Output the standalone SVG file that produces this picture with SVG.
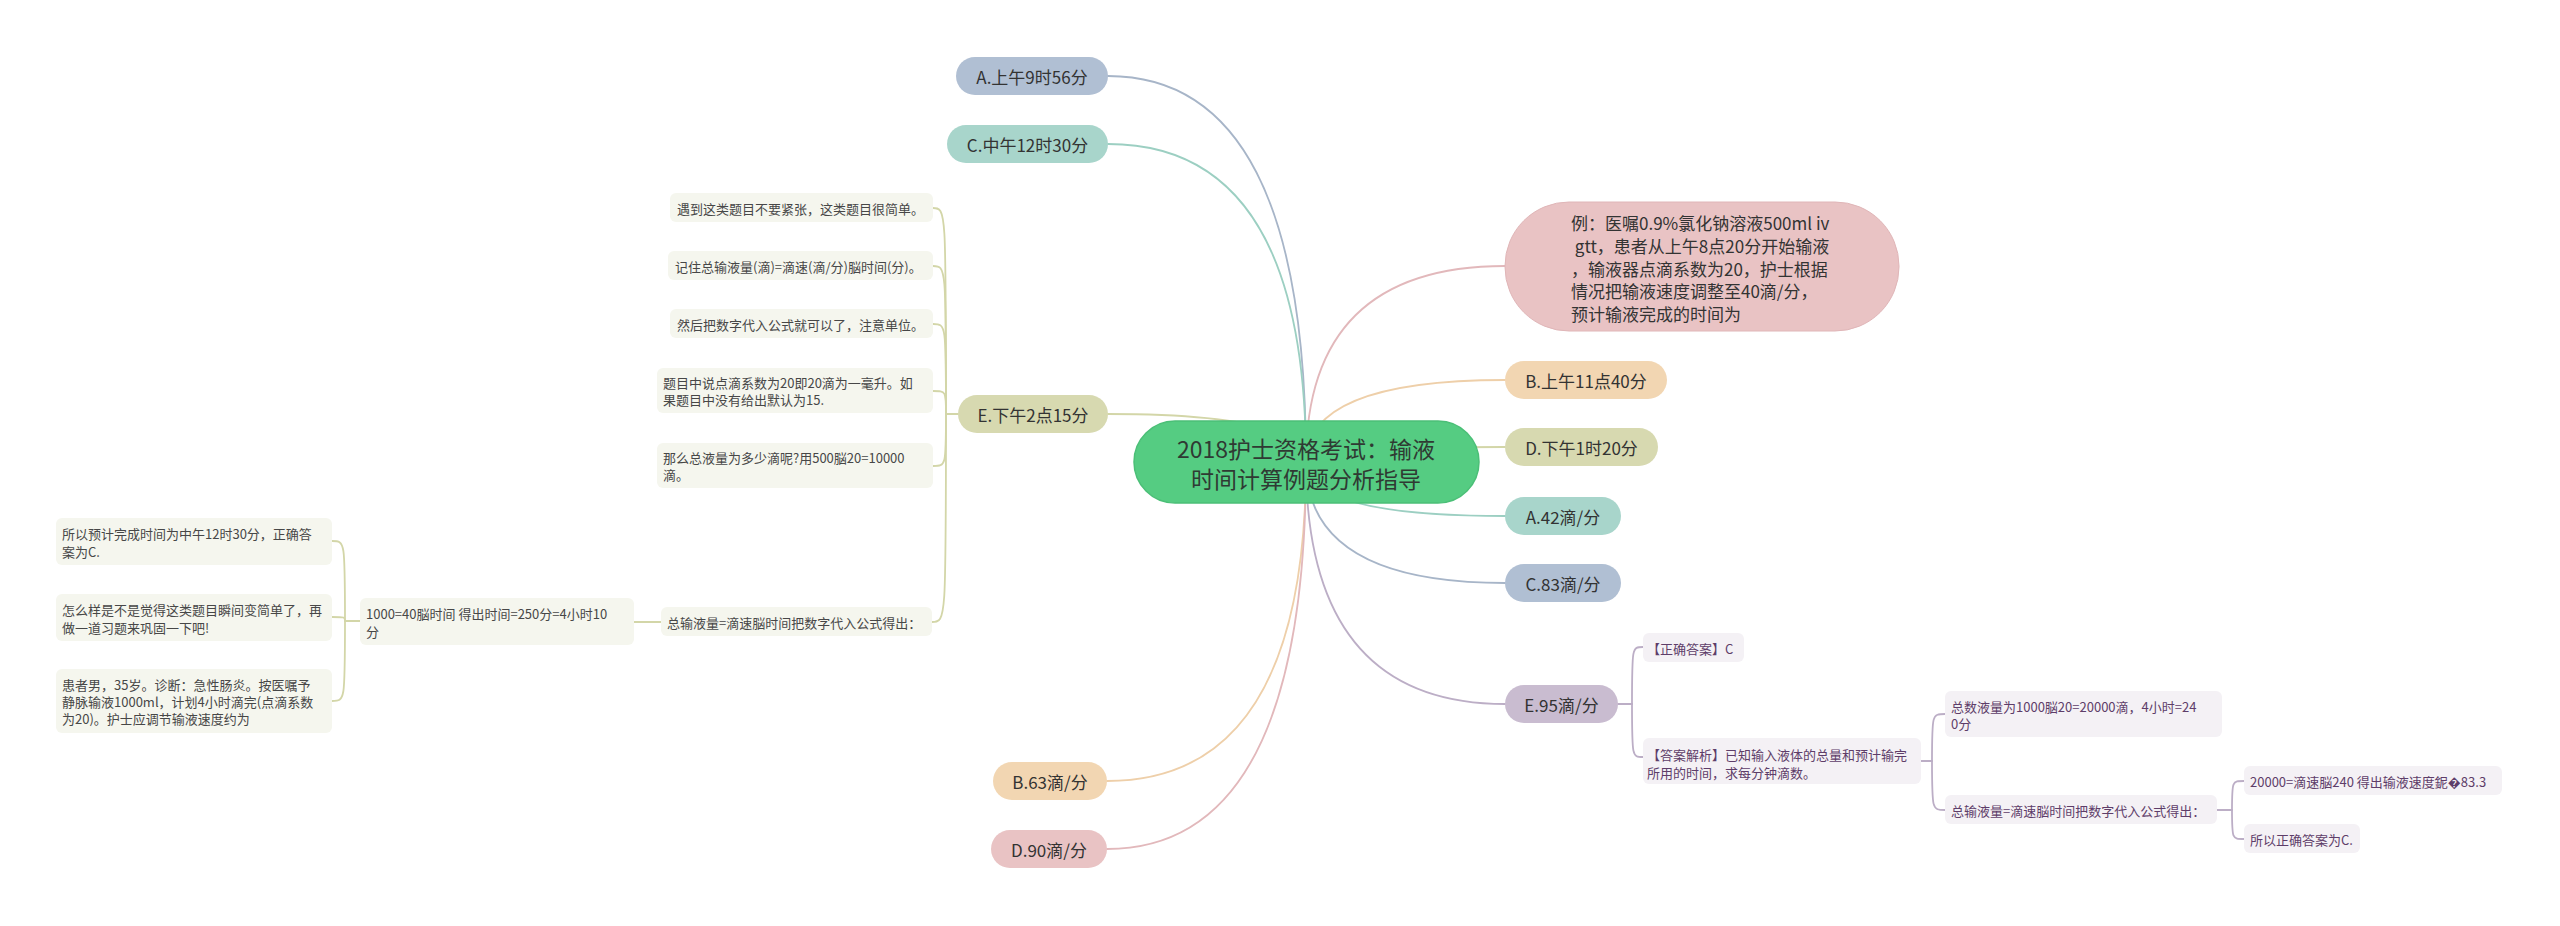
<svg xmlns="http://www.w3.org/2000/svg" width="2560" height="926" viewBox="0 0 2560 926">
<style>
text{font-family:"Noto Sans CJK SC","Noto Sans",sans-serif;dominant-baseline:central}
.pill{font-size:17px;fill:#333;text-anchor:middle}
.main{font-size:23px;fill:#2f3a33;text-anchor:middle}
.ex{font-size:17px;fill:#333}
.lt{font-size:13px;fill:#474747}
.rt{font-size:13px;fill:#5e3d69}
.lbox{fill:#f5f6ee}
.rbox{fill:#f4f1f5}
.c{fill:none;stroke-width:1.8;stroke-linecap:round}
.cb{stroke:#a7b5c8}.cm{stroke:#9ccfc2}.co{stroke:#d3d6a8}.cp{stroke:#eecfa9}.cl{stroke:#bcaec6}.ck{stroke:#e2b8bb}
</style>
<rect width="2560" height="926" fill="#ffffff"/>
<g id="connectors">
<path class="c cb" d="M1306,462 Q1306,76 1108,76"/>
<path class="c cm" d="M1306,462 Q1306,144 1108,144"/>
<path class="c co" d="M1306,462 Q1306,414 1108,414"/>
<path class="c ck" d="M1306,462 Q1306,266 1505,266"/>
<path class="c cp" d="M1306,462 Q1306,380 1505,380"/>
<path class="c co" d="M1306,462 Q1306,447 1505,447"/>
<path class="c cm" d="M1306,462 Q1306,516 1505,516"/>
<path class="c cb" d="M1306,462 Q1306,583 1505,583"/>
<path class="c cl" d="M1306,462 Q1306,704 1505,704"/>
<path class="c cp" d="M1306,462 Q1306,781 1107,781"/>
<path class="c ck" d="M1306,462 Q1306,849 1107,849"/>
<path class="c co" d="M958,414 H946"/>
<path class="c co" d="M946,414 C946,208 946,208 933,208"/>
<path class="c co" d="M946,414 C946,266 946,266 933,266"/>
<path class="c co" d="M946,414 C946,324 946,324 933,324"/>
<path class="c co" d="M946,414 C946,391 946,391 933,391"/>
<path class="c co" d="M946,414 C946,466 946,466 933,466"/>
<path class="c co" d="M946,414 C946,622 946,622 932,622"/>
<path class="c co" d="M661,622 H634"/>
<path class="c co" d="M360,621 H345"/>
<path class="c co" d="M345,621 C345,541 345,541 332,541"/>
<path class="c co" d="M345,621 C345,617 345,617 332,617"/>
<path class="c co" d="M345,621 C345,701 345,701 332,701"/>
<path class="c cl" d="M1618,704 H1632"/>
<path class="c cl" d="M1632,704 C1632,647 1632,647 1643,647"/>
<path class="c cl" d="M1632,704 C1632,757 1632,757 1643,757"/>
<path class="c cl" d="M1921,761 H1932"/>
<path class="c cl" d="M1932,761 C1932,714 1932,714 1945,714"/>
<path class="c cl" d="M1932,761 C1932,810 1932,810 1945,810"/>
<path class="c cl" d="M2217,810 H2232"/>
<path class="c cl" d="M2232,810 C2232,781 2232,781 2244,781"/>
<path class="c cl" d="M2232,810 C2232,839 2232,839 2244,839"/>
</g>
<g id="central">
<rect x="1134" y="421" width="345" height="82" rx="41" fill="#55cc82" stroke="#4bbf77" stroke-width="1.5"/>
<text class="main" x="1306" y="448">2018护士资格考试：输液</text>
<text class="main" x="1306" y="478">时间计算例题分析指导</text>
</g>
<g id="n-a-956">
<rect x="956" y="57" width="152" height="38" rx="19" fill="#b0bfd3"/>
<text class="pill" x="1032" y="76">A.上午9时56分</text>
</g>
<g id="n-c-1230">
<rect x="947" y="125" width="161" height="38" rx="19" fill="#a8d5cb"/>
<text class="pill" x="1027.5" y="144">C.中午12时30分</text>
</g>
<g id="n-e-215">
<rect x="958" y="395" width="150" height="38" rx="19" fill="#d7d9b0"/>
<text class="pill" x="1033" y="414">E.下午2点15分</text>
</g>
<g id="n-example">
<rect x="1505" y="202" width="394" height="129" rx="64" fill="#e9c3c4" stroke="#e0b6b8" stroke-width="1"/>
<text class="ex" x="1571" y="222">例：医嘱0.9%氯化钠溶液500ml iv</text>
<text class="ex" x="1571" y="245" xml:space="preserve"> gtt，患者从上午8点20分开始输液</text>
<text class="ex" x="1571" y="268">，输液器点滴系数为20，护士根据</text>
<text class="ex" x="1571" y="290">情况把输液速度调整至40滴/分，</text>
<text class="ex" x="1571" y="313">预计输液完成的时间为</text>
</g>
<g id="n-b-1140">
<rect x="1505" y="361" width="162" height="38" rx="19" fill="#f2d6b2"/>
<text class="pill" x="1586" y="380">B.上午11点40分</text>
</g>
<g id="n-d-120">
<rect x="1505" y="428" width="153" height="38" rx="19" fill="#d7d9b0"/>
<text class="pill" x="1581.5" y="447">D.下午1时20分</text>
</g>
<g id="n-a-42">
<rect x="1505" y="497" width="116" height="38" rx="19" fill="#a8d5cb"/>
<text class="pill" x="1563" y="516">A.42滴/分</text>
</g>
<g id="n-c-83">
<rect x="1505" y="564" width="116" height="38" rx="19" fill="#b0bfd3"/>
<text class="pill" x="1563" y="583">C.83滴/分</text>
</g>
<g id="n-e-95">
<rect x="1505" y="685" width="113" height="38" rx="19" fill="#c9bcd0"/>
<text class="pill" x="1561.5" y="704">E.95滴/分</text>
</g>
<g id="n-b-63">
<rect x="993" y="762" width="114" height="38" rx="19" fill="#f2d6b2"/>
<text class="pill" x="1050" y="781">B.63滴/分</text>
</g>
<g id="n-d-90">
<rect x="991" y="830" width="116" height="38" rx="19" fill="#e9c3c4"/>
<text class="pill" x="1049" y="849">D.90滴/分</text>
</g>
<g id="l1">
<rect class="lbox" x="670" y="193" width="263" height="29" rx="6"/>
<text class="lt" x="677" y="208">遇到这类题目不要紧张，这类题目很简单。</text>
</g>
<g id="l2">
<rect class="lbox" x="668" y="251" width="265" height="29" rx="6"/>
<text class="lt" x="675" y="266">记住总输液量(滴)=滴速(滴/分)脳时间(分)。</text>
</g>
<g id="l3">
<rect class="lbox" x="670" y="309" width="263" height="29" rx="6"/>
<text class="lt" x="677" y="324">然后把数字代入公式就可以了，注意单位。</text>
</g>
<g id="l4">
<rect class="lbox" x="657" y="368" width="276" height="45" rx="6"/>
<text class="lt" x="663" y="382">题目中说点滴系数为20即20滴为一毫升。如</text>
<text class="lt" x="663" y="399">果题目中没有给出默认为15.</text>
</g>
<g id="l5">
<rect class="lbox" x="657" y="443" width="276" height="45" rx="6"/>
<text class="lt" x="663" y="457">那么总液量为多少滴呢?用500脳20=10000</text>
<text class="lt" x="663" y="474">滴。</text>
</g>
<g id="l6">
<rect class="lbox" x="661" y="607" width="271" height="29" rx="6"/>
<text class="lt" x="667" y="622">总输液量=滴速脳时间把数字代入公式得出：</text>
</g>
<g id="l7">
<rect class="lbox" x="360" y="598" width="274" height="47" rx="6"/>
<text class="lt" x="366" y="613">1000=40脳时间 得出时间=250分=4小时10</text>
<text class="lt" x="366" y="631">分</text>
</g>
<g id="l8">
<rect class="lbox" x="56" y="518" width="276" height="47" rx="6"/>
<text class="lt" x="62" y="533">所以预计完成时间为中午12时30分，正确答</text>
<text class="lt" x="62" y="551">案为C.</text>
</g>
<g id="l9">
<rect class="lbox" x="56" y="594" width="276" height="47" rx="6"/>
<text class="lt" x="62" y="609">怎么样是不是觉得这类题目瞬间变简单了，再</text>
<text class="lt" x="62" y="627">做一道习题来巩固一下吧!</text>
</g>
<g id="l10">
<rect class="lbox" x="56" y="669" width="276" height="64" rx="6"/>
<text class="lt" x="62" y="684">患者男，35岁。诊断：急性肠炎。按医嘱予</text>
<text class="lt" x="62" y="701">静脉输液1000ml，计划4小时滴完(点滴系数</text>
<text class="lt" x="62" y="718">为20)。护士应调节输液速度约为</text>
</g>
<g id="r1">
<rect class="rbox" x="1643" y="633" width="101" height="29" rx="6"/>
<text class="rt" x="1647" y="648">【正确答案】C</text>
</g>
<g id="r2">
<rect class="rbox" x="1643" y="738" width="278" height="46" rx="6"/>
<text class="rt" x="1647" y="754">【答案解析】已知输入液体的总量和预计输完</text>
<text class="rt" x="1647" y="772">所用的时间，求每分钟滴数。</text>
</g>
<g id="r3">
<rect class="rbox" x="1945" y="691" width="277" height="46" rx="6"/>
<text class="rt" x="1951" y="706">总数液量为1000脳20=20000滴，4小时=24</text>
<text class="rt" x="1951" y="723">0分</text>
</g>
<g id="r4">
<rect class="rbox" x="1945" y="795" width="272" height="29" rx="6"/>
<text class="rt" x="1951" y="810">总输液量=滴速脳时间把数字代入公式得出：</text>
</g>
<g id="r5">
<rect class="rbox" x="2244" y="766" width="258" height="29" rx="6"/>
<text class="rt" x="2250" y="781">20000=滴速脳240 得出输液速度鈮�83.3</text>
</g>
<g id="r6">
<rect class="rbox" x="2244" y="824" width="116" height="29" rx="6"/>
<text class="rt" x="2250" y="839">所以正确答案为C.</text>
</g>
</svg>
